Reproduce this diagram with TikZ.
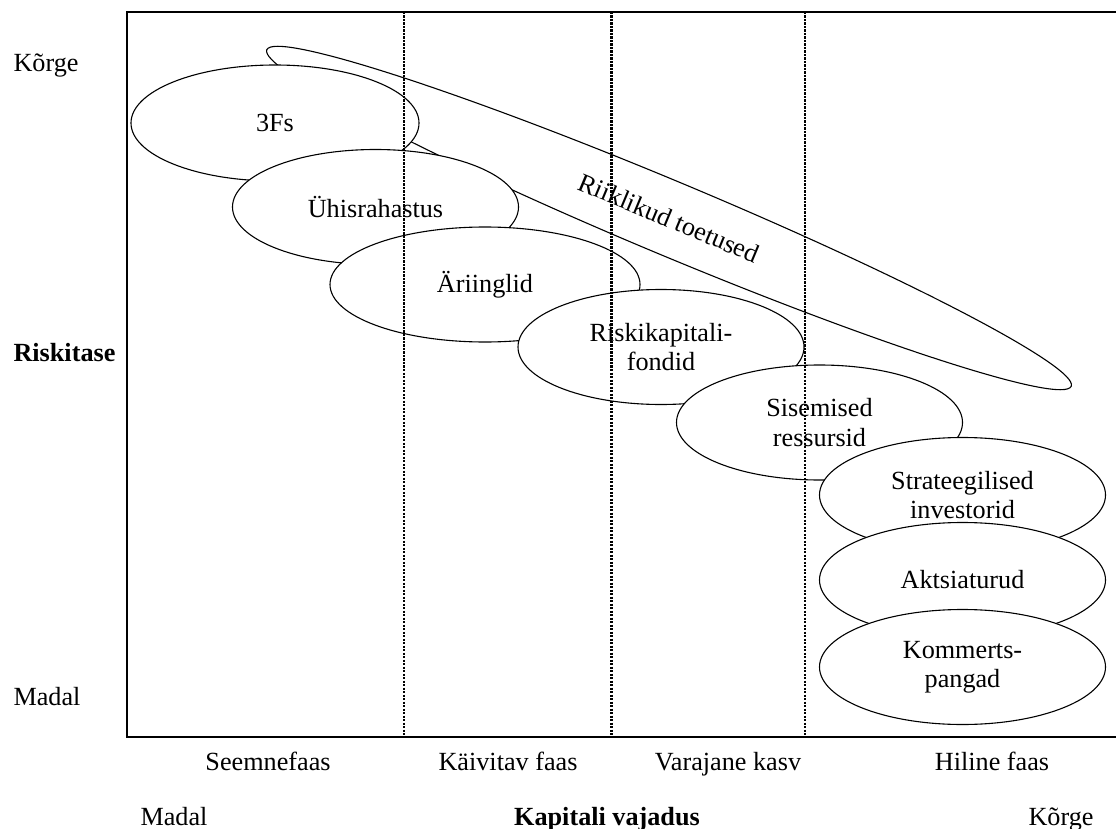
\documentclass[tikz,border=0pt]{standalone}
\usepackage{fontspec}
\setmainfont{Liberation Serif}
\usetikzlibrary{shapes.geometric}

\begin{document}
\begin{tikzpicture}[x=1pt, y=-1pt,
    every node/.append style={font=\fontsize{26.2}{29.5}\selectfont},
    fund/.style={draw, ellipse, fill=white, line width=1.1pt, inner sep=0pt,
                 minimum width=286pt, minimum height=115pt, align=center},
    phase/.style={dash pattern=on 2.2pt off 1.3pt, line width=2.4pt}]
    \useasboundingbox (0,0) rectangle (1116,829);
    % state support, behind the other sources
    \node[draw, ellipse, line width=1.1pt, inner sep=0pt, minimum width=872pt,
          minimum height=74pt, rotate=-22.7] (state) at (669,218) {Riiklikud toetused};
    % sources of finance, from high risk to low
    \node[fund, minimum width=288pt, minimum height=116pt] (f3) at (275,123) {3Fs};
    \node[fund] (crowd) at (375.5,207) {Ühisrahastus};
    \node[fund, minimum width=310pt] (angels) at (485,284.5) {Äriinglid};
    \node[fund] (vc) at (661,347) {Riskikapitali-\\fondid};
    \node[fund] (internal) at (819.5,422.5) {Sisemised\\ressursid};
    \node[fund] (strategic) at (962.5,495) {Strateegilised\\investorid};
    \node[fund] (stocks) at (962.5,580) {Aktsiaturud};
    \node[fund] (banks) at (962.5,667) {Kommerts-\\pangad};
    % phases
    \draw[phase] (404,12) -- (404,737);
    \draw[phase] (611.5,12) -- (611.5,737);
    \draw[phase] (805,12) -- (805,737);
    \draw[line width=1.4pt] (1116,12) -- (127,12) -- (127,737) -- (1116,737);
    % risk axis
    \node[anchor=base west] (riskhi) at (10,72) {Kõrge};
    \node[anchor=base west, font=\fontsize{26.2}{29.5}\selectfont\bfseries] (risk) at (10,361) {Riskitase};
    \node[anchor=base west] (risklo) at (10,705) {Madal};
    % capital axis
    \node[anchor=base] (seed) at (268,770) {Seemnefaas};
    \node[anchor=base] (startup) at (508,770) {Käivitav faas};
    \node[anchor=base] (early) at (728,770) {Varajane kasv};
    \node[anchor=base] (late) at (992,770) {Hiline faas};
    \node[anchor=base] (caplo) at (174,825) {Madal};
    \node[anchor=base, font=\fontsize{26.2}{29.5}\selectfont\bfseries] (cap) at (607,825) {Kapitali vajadus};
    \node[anchor=base] (caphi) at (1061,825) {Kõrge};
\end{tikzpicture}
\end{document}
